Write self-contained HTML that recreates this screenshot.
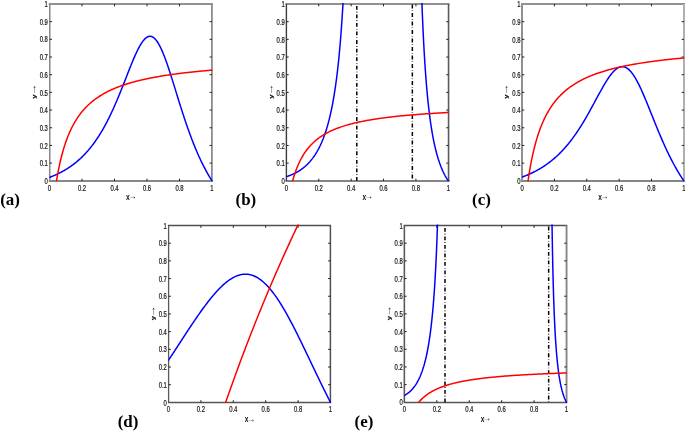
<!DOCTYPE html>
<html><head><meta charset="utf-8"><style>
html,body{margin:0;padding:0;background:#fff;}
svg{display:block;}
.tk{font-family:"Liberation Sans",Arial,sans-serif;font-size:8.8px;fill:#1a1a1a;stroke:#1a1a1a;stroke-width:0.25px;}
.al{font-family:"Liberation Sans",Arial,sans-serif;fill:#111;}
.pl{font-family:"Liberation Serif","Times New Roman",serif;font-size:16px;font-weight:bold;fill:#000;}
</style></head><body>
<svg width="685" height="432" viewBox="0 0 685 432">
<rect width="685" height="432" fill="#fff"/>
<g><line x1="49.75" y1="4.0" x2="211.9" y2="4.0" stroke="#909090" stroke-width="2.0" stroke-linecap="square"/><line x1="49.75" y1="181.0" x2="211.9" y2="181.0" stroke="#888888" stroke-width="2.0" stroke-linecap="square"/><line x1="49.75" y1="4.0" x2="49.75" y2="181.0" stroke="#888888" stroke-width="1.5"/><line x1="211.9" y1="4.0" x2="211.9" y2="181.0" stroke="#8c8c8c" stroke-width="1.8"/><path d="M49.75 163.12h2.3M211.9 163.12h-2.3M49.75 145.43h2.3M211.9 145.43h-2.3M49.75 127.75h2.3M211.9 127.75h-2.3M49.75 110.06h2.3M211.9 110.06h-2.3M49.75 92.38h2.3M211.9 92.38h-2.3M49.75 74.69h2.3M211.9 74.69h-2.3M49.75 57.01h2.3M211.9 57.01h-2.3M49.75 39.32h2.3M211.9 39.32h-2.3M49.75 21.63h2.3M211.9 21.63h-2.3M82.00 181.0v-2.3M82.00 4.0v2.3M114.50 181.0v-2.3M114.50 4.0v2.3M147.00 181.0v-2.3M147.00 4.0v2.3M179.50 181.0v-2.3M179.50 4.0v2.3" stroke="#222" stroke-width="1" fill="none"/><clipPath id="clipa"><rect x="49.4" y="3.0500000000000003" width="163.5" height="178.65000000000003"/></clipPath><path d="M49.50 177.39L50.04 177.19L50.59 176.98L51.13 176.77L51.67 176.55L52.22 176.33L52.76 176.11L53.30 175.88L53.85 175.65L54.39 175.42L54.93 175.18L55.48 174.94L56.02 174.70L56.57 174.45L57.11 174.20L57.65 173.94L58.20 173.68L58.74 173.41L59.28 173.14L59.83 172.87L60.37 172.59L60.91 172.31L61.46 172.02L62.00 171.73L62.54 171.43L63.09 171.13L63.63 170.82L64.17 170.51L64.72 170.19L65.26 169.87L65.80 169.54L66.35 169.21L66.89 168.87L67.43 168.53L67.98 168.18L68.52 167.83L69.07 167.47L69.61 167.10L70.15 166.73L70.70 166.36L71.24 165.97L71.78 165.58L72.33 165.19L72.87 164.79L73.41 164.38L73.96 163.96L74.50 163.54L75.04 163.11L75.59 162.68L76.13 162.24L76.67 161.79L77.22 161.33L77.76 160.87L78.30 160.40L78.85 159.92L79.39 159.43L79.93 158.94L80.48 158.44L81.02 157.93L81.57 157.41L82.11 156.88L82.65 156.35L83.20 155.81L83.74 155.25L84.28 154.69L84.83 154.13L85.37 153.55L85.91 152.96L86.46 152.36L87.00 151.76L87.54 151.14L88.09 150.52L88.63 149.88L89.17 149.24L89.72 148.59L90.26 147.92L90.80 147.25L91.35 146.56L91.89 145.86L92.43 145.16L92.98 144.44L93.52 143.71L94.07 142.97L94.61 142.22L95.15 141.46L95.70 140.68L96.24 139.90L96.78 139.10L97.33 138.29L97.87 137.47L98.41 136.63L98.96 135.79L99.50 134.93L100.04 134.06L100.59 133.17L101.13 132.28L101.67 131.37L102.22 130.44L102.76 129.51L103.30 128.56L103.85 127.60L104.39 126.62L104.93 125.63L105.48 124.63L106.02 123.62L106.57 122.59L107.11 121.54L107.65 120.49L108.20 119.42L108.74 118.33L109.28 117.24L109.83 116.13L110.37 115.00L110.91 113.87L111.46 112.72L112.00 111.55L112.54 110.38L113.09 109.19L113.63 107.98L114.17 106.77L114.72 105.54L115.26 104.30L115.80 103.05L116.35 101.79L116.89 100.51L117.43 99.23L117.98 97.93L118.52 96.62L119.07 95.31L119.61 93.98L120.15 92.64L120.70 91.30L121.24 89.95L121.78 88.59L122.33 87.23L122.87 85.86L123.41 84.48L123.96 83.10L124.50 81.72L125.04 80.33L125.59 78.94L126.13 77.55L126.67 76.16L127.22 74.77L127.76 73.38L128.30 72.00L128.85 70.62L129.39 69.25L129.93 67.88L130.48 66.53L131.02 65.18L131.57 63.84L132.11 62.51L132.65 61.20L133.20 59.91L133.74 58.63L134.28 57.37L134.83 56.13L135.37 54.91L135.91 53.71L136.46 52.54L137.00 51.40L137.54 50.28L138.09 49.20L138.63 48.14L139.17 47.13L139.72 46.14L140.26 45.20L140.80 44.29L141.35 43.42L141.89 42.60L142.43 41.82L142.98 41.08L143.52 40.39L144.07 39.75L144.61 39.16L145.15 38.63L145.70 38.14L146.24 37.71L146.78 37.33L147.33 37.01L147.87 36.75L148.41 36.54L148.96 36.40L149.50 36.31L150.04 36.28L150.59 36.31L151.13 36.41L151.67 36.56L152.22 36.78L152.76 37.06L153.30 37.40L153.85 37.80L154.39 38.26L154.93 38.78L155.48 39.36L156.02 40.00L156.57 40.70L157.11 41.45L157.65 42.26L158.20 43.13L158.74 44.05L159.28 45.02L159.83 46.05L160.37 47.12L160.91 48.24L161.46 49.41L162.00 50.63L162.54 51.88L163.09 53.18L163.63 54.52L164.17 55.90L164.72 57.31L165.26 58.76L165.80 60.24L166.35 61.75L166.89 63.29L167.43 64.86L167.98 66.45L168.52 68.07L169.07 69.71L169.61 71.36L170.15 73.04L170.70 74.73L171.24 76.43L171.78 78.15L172.33 79.88L172.87 81.62L173.41 83.36L173.96 85.11L174.50 86.87L175.04 88.63L175.59 90.39L176.13 92.15L176.67 93.91L177.22 95.67L177.76 97.43L178.30 99.18L178.85 100.93L179.39 102.67L179.93 104.41L180.48 106.13L181.02 107.85L181.57 109.56L182.11 111.25L182.65 112.94L183.20 114.62L183.74 116.28L184.28 117.93L184.83 119.56L185.37 121.18L185.91 122.79L186.46 124.38L187.00 125.96L187.54 127.52L188.09 129.07L188.63 130.60L189.17 132.11L189.72 133.61L190.26 135.09L190.80 136.55L191.35 138.00L191.89 139.43L192.43 140.84L192.98 142.24L193.52 143.61L194.07 144.97L194.61 146.32L195.15 147.64L195.70 148.95L196.24 150.24L196.78 151.52L197.33 152.78L197.87 154.02L198.41 155.24L198.96 156.45L199.50 157.64L200.04 158.81L200.59 159.97L201.13 161.11L201.67 162.24L202.22 163.35L202.76 164.44L203.30 165.52L203.85 166.58L204.39 167.63L204.93 168.66L205.48 169.68L206.02 170.68L206.57 171.67L207.11 172.64L207.65 173.60L208.20 174.55L208.74 175.48L209.28 176.40L209.83 177.31L210.37 178.20L210.91 179.08L211.46 179.95L212.00 180.80" stroke="#0000ff" stroke-width="1.5" fill="none" clip-path="url(#clipa)" stroke-linejoin="round" stroke-linecap="round"/><path d="M56.50 180.80L57.28 176.26L58.06 172.04L58.84 168.10L59.62 164.42L60.40 160.97L61.18 157.73L61.97 154.69L62.75 151.82L63.53 149.11L64.31 146.55L65.09 144.12L65.87 141.83L66.65 139.64L67.44 137.57L68.22 135.59L69.00 133.71L69.78 131.91L70.56 130.20L71.34 128.56L72.12 126.99L72.91 125.48L73.69 124.04L74.47 122.65L75.25 121.32L76.03 120.04L76.81 118.81L77.59 117.63L78.38 116.49L79.16 115.39L79.94 114.33L80.72 113.31L81.50 112.32L82.28 111.36L83.06 110.44L83.85 109.54L84.63 108.68L85.41 107.84L86.19 107.02L86.97 106.24L87.75 105.47L88.53 104.73L89.32 104.01L90.10 103.31L90.88 102.63L91.66 101.97L92.44 101.33L93.22 100.70L94.00 100.09L94.79 99.50L95.57 98.93L96.35 98.36L97.13 97.82L97.91 97.28L98.69 96.76L99.47 96.25L100.26 95.76L101.04 95.27L101.82 94.80L102.60 94.34L103.38 93.89L104.16 93.45L104.94 93.02L105.73 92.60L106.51 92.19L107.29 91.78L108.07 91.39L108.85 91.01L109.63 90.63L110.41 90.26L111.20 89.90L111.98 89.54L112.76 89.20L113.54 88.86L114.32 88.52L115.10 88.20L115.88 87.87L116.67 87.56L117.45 87.25L118.23 86.95L119.01 86.65L119.79 86.36L120.57 86.08L121.35 85.79L122.14 85.52L122.92 85.25L123.70 84.98L124.48 84.72L125.26 84.46L126.04 84.21L126.82 83.96L127.61 83.72L128.39 83.48L129.17 83.25L129.95 83.01L130.73 82.79L131.51 82.56L132.29 82.34L133.08 82.13L133.86 81.91L134.64 81.70L135.42 81.49L136.20 81.29L136.98 81.09L137.76 80.89L138.55 80.70L139.33 80.51L140.11 80.32L140.89 80.13L141.67 79.95L142.45 79.77L143.23 79.59L144.02 79.42L144.80 79.24L145.58 79.07L146.36 78.91L147.14 78.74L147.92 78.58L148.70 78.42L149.49 78.26L150.27 78.10L151.05 77.95L151.83 77.79L152.61 77.64L153.39 77.50L154.17 77.35L154.96 77.20L155.74 77.06L156.52 76.92L157.30 76.78L158.08 76.65L158.86 76.51L159.64 76.38L160.43 76.24L161.21 76.11L161.99 75.98L162.77 75.86L163.55 75.73L164.33 75.61L165.11 75.49L165.90 75.36L166.68 75.24L167.46 75.13L168.24 75.01L169.02 74.89L169.80 74.78L170.58 74.67L171.37 74.56L172.15 74.45L172.93 74.34L173.71 74.23L174.49 74.12L175.27 74.02L176.05 73.91L176.84 73.81L177.62 73.71L178.40 73.61L179.18 73.51L179.96 73.41L180.74 73.31L181.52 73.21L182.31 73.12L183.09 73.02L183.87 72.93L184.65 72.84L185.43 72.75L186.21 72.66L186.99 72.57L187.78 72.48L188.56 72.39L189.34 72.30L190.12 72.22L190.90 72.13L191.68 72.05L192.46 71.96L193.25 71.88L194.03 71.80L194.81 71.72L195.59 71.64L196.37 71.56L197.15 71.48L197.93 71.40L198.72 71.33L199.50 71.25L200.28 71.17L201.06 71.10L201.84 71.02L202.62 70.95L203.40 70.88L204.19 70.81L204.97 70.73L205.75 70.66L206.53 70.59L207.31 70.52L208.09 70.45L208.87 70.39L209.66 70.32L210.44 70.25L211.22 70.18L212.00 70.12" stroke="#ff0000" stroke-width="1.5" fill="none" clip-path="url(#clipa)" stroke-linejoin="round" stroke-linecap="round"/><text transform="translate(47.90 183.95) scale(0.67 1)" text-anchor="end" class="tk">0</text><text transform="translate(47.90 166.27) scale(0.67 1)" text-anchor="end" class="tk">0.1</text><text transform="translate(47.90 148.58) scale(0.67 1)" text-anchor="end" class="tk">0.2</text><text transform="translate(47.90 130.90) scale(0.67 1)" text-anchor="end" class="tk">0.3</text><text transform="translate(47.90 113.21) scale(0.67 1)" text-anchor="end" class="tk">0.4</text><text transform="translate(47.90 95.53) scale(0.67 1)" text-anchor="end" class="tk">0.5</text><text transform="translate(47.90 77.84) scale(0.67 1)" text-anchor="end" class="tk">0.6</text><text transform="translate(47.90 60.16) scale(0.67 1)" text-anchor="end" class="tk">0.7</text><text transform="translate(47.90 42.47) scale(0.67 1)" text-anchor="end" class="tk">0.8</text><text transform="translate(47.90 24.78) scale(0.67 1)" text-anchor="end" class="tk">0.9</text><text transform="translate(47.90 7.10) scale(0.67 1)" text-anchor="end" class="tk">1</text><text transform="translate(49.50 191.00) scale(0.67 1)" text-anchor="middle" class="tk">0</text><text transform="translate(82.00 191.00) scale(0.67 1)" text-anchor="middle" class="tk">0.2</text><text transform="translate(114.50 191.00) scale(0.67 1)" text-anchor="middle" class="tk">0.4</text><text transform="translate(147.00 191.00) scale(0.67 1)" text-anchor="middle" class="tk">0.6</text><text transform="translate(179.50 191.00) scale(0.67 1)" text-anchor="middle" class="tk">0.8</text><text transform="translate(212.00 191.00) scale(0.67 1)" text-anchor="middle" class="tk">1</text><text transform="translate(126.00 199.70) scale(0.72 1)" class="al" font-weight="bold" font-size="9.2">x</text><text transform="translate(128.15 199.10) scale(0.85 1)" class="al" font-weight="bold" font-size="10">&#8594;</text><text transform="translate(35.60 98.67) rotate(-90) scale(1 0.76)" class="al" font-weight="bold" font-size="7.8" stroke="#111" stroke-width="0.2">y</text><text transform="translate(35.77 95.83) rotate(-90) scale(1.2936 0.9096)" class="al" font-size="9.4" font-weight="bold">&#8594;</text><text transform="translate(0.2 204.5) scale(1.06 1)" class="pl">(a)</text></g>
<g><line x1="286.4" y1="4.0" x2="448.55" y2="4.0" stroke="#909090" stroke-width="2.0" stroke-linecap="square"/><line x1="286.4" y1="181.0" x2="448.55" y2="181.0" stroke="#858585" stroke-width="2.0" stroke-linecap="square"/><line x1="286.4" y1="4.0" x2="286.4" y2="181.0" stroke="#3c3c3c" stroke-width="1.4"/><line x1="448.55" y1="4.0" x2="448.55" y2="181.0" stroke="#5a5a5a" stroke-width="1.6"/><path d="M286.4 163.12h2.3M448.55 163.12h-2.3M286.4 145.44h2.3M448.55 145.44h-2.3M286.4 127.76h2.3M448.55 127.76h-2.3M286.4 110.08h2.3M448.55 110.08h-2.3M286.4 92.40h2.3M448.55 92.40h-2.3M286.4 74.72h2.3M448.55 74.72h-2.3M286.4 57.04h2.3M448.55 57.04h-2.3M286.4 39.36h2.3M448.55 39.36h-2.3M286.4 21.68h2.3M448.55 21.68h-2.3M318.78 181.0v-2.3M318.78 4.0v2.3M351.16 181.0v-2.3M351.16 4.0v2.3M383.54 181.0v-2.3M383.54 4.0v2.3M415.92 181.0v-2.3M415.92 4.0v2.3" stroke="#222" stroke-width="1" fill="none"/><clipPath id="clipb"><rect x="286.29999999999995" y="3.1" width="162.90000000000003" height="178.60000000000002"/></clipPath><line x1="356.8" y1="180.8" x2="356.8" y2="4.0" stroke="#000" stroke-width="1.5" stroke-dasharray="3.8 2.05 0.6 2.105" stroke-dashoffset="-0.0" clip-path="url(#clipb)"/><line x1="412.35" y1="4.0" x2="412.35" y2="180.8" stroke="#000" stroke-width="1.5" stroke-dasharray="3.8 2.05 0.6 2.050" stroke-dashoffset="-0.6" clip-path="url(#clipb)"/><path d="M286.40 176.67L286.59 176.61L286.79 176.54L286.98 176.48L287.18 176.42L287.37 176.36L287.57 176.29L287.76 176.23L287.96 176.16L288.15 176.09L288.35 176.03L288.54 175.96L288.74 175.89L288.93 175.82L289.13 175.75L289.32 175.68L289.52 175.61L289.71 175.53L289.91 175.46L290.10 175.38L290.30 175.31L290.49 175.23L290.69 175.16L290.88 175.08L291.08 175.00L291.27 174.92L291.47 174.84L291.66 174.76L291.86 174.67L292.05 174.59L292.25 174.51L292.44 174.42L292.64 174.33L292.83 174.25L293.03 174.16L293.22 174.07L293.42 173.98L293.61 173.89L293.81 173.80L294.00 173.70L294.20 173.61L294.39 173.51L294.59 173.42L294.78 173.32L294.98 173.22L295.17 173.12L295.37 173.02L295.56 172.92L295.76 172.82L295.95 172.72L296.15 172.61L296.34 172.51L296.54 172.40L296.73 172.29L296.93 172.18L297.12 172.07L297.32 171.96L297.51 171.85L297.71 171.73L297.90 171.62L298.10 171.50L298.29 171.38L298.49 171.27L298.68 171.15L298.88 171.02L299.07 170.90L299.27 170.78L299.46 170.65L299.66 170.53L299.85 170.40L300.05 170.27L300.24 170.14L300.43 170.01L300.63 169.87L300.82 169.74L301.02 169.60L301.21 169.47L301.41 169.33L301.60 169.19L301.80 169.04L301.99 168.90L302.19 168.76L302.38 168.61L302.58 168.46L302.77 168.31L302.97 168.16L303.16 168.01L303.36 167.85L303.55 167.70L303.75 167.54L303.94 167.38L304.14 167.22L304.33 167.06L304.53 166.89L304.72 166.73L304.92 166.56L305.11 166.39L305.31 166.22L305.50 166.05L305.70 165.87L305.89 165.69L306.09 165.51L306.28 165.33L306.48 165.15L306.67 164.97L306.87 164.78L307.06 164.59L307.26 164.40L307.45 164.21L307.65 164.01L307.84 163.82L308.04 163.62L308.23 163.42L308.43 163.21L308.62 163.01L308.82 162.80L309.01 162.59L309.21 162.38L309.40 162.16L309.60 161.95L309.79 161.73L309.99 161.51L310.18 161.28L310.38 161.06L310.57 160.83L310.77 160.60L310.96 160.36L311.16 160.13L311.35 159.89L311.55 159.64L311.74 159.40L311.94 159.15L312.13 158.90L312.33 158.65L312.52 158.39L312.72 158.14L312.91 157.87L313.11 157.61L313.30 157.34L313.50 157.07L313.69 156.80L313.89 156.52L314.08 156.24L314.27 155.96L314.47 155.67L314.66 155.38L314.86 155.09L315.05 154.79L315.25 154.49L315.44 154.19L315.64 153.88L315.83 153.57L316.03 153.26L316.22 152.94L316.42 152.62L316.61 152.30L316.81 151.97L317.00 151.63L317.20 151.30L317.39 150.96L317.59 150.61L317.78 150.26L317.98 149.91L318.17 149.55L318.37 149.19L318.56 148.82L318.76 148.45L318.95 148.08L319.15 147.70L319.34 147.31L319.54 146.92L319.73 146.53L319.93 146.13L320.12 145.72L320.32 145.32L320.51 144.90L320.71 144.48L320.90 144.06L321.10 143.63L321.29 143.19L321.49 142.75L321.68 142.30L321.88 141.85L322.07 141.39L322.27 140.92L322.46 140.45L322.66 139.97L322.85 139.49L323.05 139.00L323.24 138.50L323.44 138.00L323.63 137.49L323.83 136.97L324.02 136.45L324.22 135.92L324.41 135.38L324.61 134.83L324.80 134.28L325.00 133.72L325.19 133.15L325.39 132.57L325.58 131.98L325.78 131.39L325.97 130.79L326.17 130.18L326.36 129.56L326.56 128.93L326.75 128.29L326.95 127.64L327.14 126.99L327.34 126.32L327.53 125.65L327.73 124.96L327.92 124.26L328.11 123.56L328.31 122.84L328.50 122.11L328.70 121.37L328.89 120.62L329.09 119.85L329.28 119.08L329.48 118.29L329.67 117.49L329.87 116.68L330.06 115.85L330.26 115.01L330.45 114.16L330.65 113.30L330.84 112.42L331.04 111.52L331.23 110.61L331.43 109.68L331.62 108.74L331.82 107.79L332.01 106.81L332.21 105.82L332.40 104.82L332.60 103.79L332.79 102.75L332.99 101.69L333.18 100.61L333.38 99.51L333.57 98.39L333.77 97.25L333.96 96.09L334.16 94.91L334.35 93.70L334.55 92.48L334.74 91.23L334.94 89.95L335.13 88.65L335.33 87.33L335.52 85.98L335.72 84.61L335.91 83.20L336.11 81.77L336.30 80.31L336.50 78.82L336.69 77.30L336.89 75.75L337.08 74.16L337.28 72.54L337.47 70.89L337.67 69.20L337.86 67.48L338.06 65.72L338.25 63.91L338.45 62.07L338.64 60.19L338.84 58.26L339.03 56.29L339.23 54.28L339.42 52.21L339.62 50.10L339.81 47.93L340.01 45.72L340.20 43.45L340.40 41.12L340.59 38.73L340.79 36.29L340.98 33.78L341.18 31.21L341.37 28.57L341.57 25.85L341.76 23.07L341.95 20.21L342.15 17.27L342.34 14.25L342.54 11.14L342.73 7.95L342.93 4.66L343.12 1.27L343.32 -2.21L343.51 -5.80L343.71 -9.50L343.90 -13.32L344.10 -17.26L344.29 -21.32L344.49 -25.52L344.68 -29.85" stroke="#0000ff" stroke-width="1.5" fill="none" clip-path="url(#clipb)" stroke-linejoin="round" stroke-linecap="round"/><path d="M419.16 -102.50L419.30 -94.77L419.45 -87.36L419.60 -80.25L419.74 -73.43L419.89 -66.88L420.04 -60.58L420.18 -54.53L420.33 -48.70L420.48 -43.08L420.62 -37.67L420.77 -32.45L420.92 -27.41L421.06 -22.55L421.21 -17.85L421.35 -13.30L421.50 -8.91L421.65 -4.66L421.79 -0.54L421.94 3.45L422.09 7.31L422.23 11.06L422.38 14.69L422.53 18.22L422.67 21.64L422.82 24.97L422.97 28.20L423.11 31.34L423.26 34.39L423.40 37.36L423.55 40.25L423.70 43.06L423.84 45.80L423.99 48.46L424.14 51.06L424.28 53.59L424.43 56.06L424.58 58.46L424.72 60.81L424.87 63.10L425.02 65.33L425.16 67.51L425.31 69.64L425.46 71.72L425.60 73.75L425.75 75.73L425.89 77.67L426.04 79.57L426.19 81.42L426.33 83.24L426.48 85.01L426.63 86.74L426.77 88.44L426.92 90.10L427.07 91.73L427.21 93.32L427.36 94.89L427.51 96.41L427.65 97.91L427.80 99.38L427.94 100.82L428.09 102.23L428.24 103.61L428.38 104.96L428.53 106.29L428.68 107.60L428.82 108.88L428.97 110.13L429.12 111.36L429.26 112.57L429.41 113.76L429.56 114.92L429.70 116.07L429.85 117.19L429.99 118.29L430.14 119.38L430.29 120.44L430.43 121.49L430.58 122.52L430.73 123.53L430.87 124.52L431.02 125.50L431.17 126.46L431.31 127.40L431.46 128.33L431.61 129.24L431.75 130.14L431.90 131.02L432.04 131.89L432.19 132.74L432.34 133.59L432.48 134.41L432.63 135.23L432.78 136.03L432.92 136.82L433.07 137.60L433.22 138.36L433.36 139.11L433.51 139.86L433.66 140.59L433.80 141.31L433.95 142.02L434.10 142.71L434.24 143.40L434.39 144.08L434.53 144.75L434.68 145.41L434.83 146.05L434.97 146.69L435.12 147.32L435.27 147.94L435.41 148.56L435.56 149.16L435.71 149.76L435.85 150.34L436.00 150.92L436.15 151.49L436.29 152.06L436.44 152.61L436.58 153.16L436.73 153.70L436.88 154.23L437.02 154.76L437.17 155.28L437.32 155.79L437.46 156.29L437.61 156.79L437.76 157.28L437.90 157.77L438.05 158.25L438.20 158.72L438.34 159.19L438.49 159.65L438.63 160.10L438.78 160.55L438.93 161.00L439.07 161.43L439.22 161.87L439.37 162.29L439.51 162.72L439.66 163.13L439.81 163.54L439.95 163.95L440.10 164.35L440.25 164.75L440.39 165.14L440.54 165.53L440.69 165.91L440.83 166.29L440.98 166.66L441.12 167.03L441.27 167.39L441.42 167.75L441.56 168.11L441.71 168.46L441.86 168.81L442.00 169.15L442.15 169.49L442.30 169.82L442.44 170.16L442.59 170.48L442.74 170.81L442.88 171.13L443.03 171.44L443.17 171.76L443.32 172.07L443.47 172.37L443.61 172.68L443.76 172.97L443.91 173.27L444.05 173.56L444.20 173.85L444.35 174.14L444.49 174.42L444.64 174.70L444.79 174.98L444.93 175.25L445.08 175.52L445.22 175.79L445.37 176.06L445.52 176.32L445.66 176.58L445.81 176.83L445.96 177.09L446.10 177.34L446.25 177.59L446.40 177.83L446.54 178.07L446.69 178.32L446.84 178.55L446.98 178.79L447.13 179.02L447.27 179.25L447.42 179.48L447.57 179.71L447.71 179.93L447.86 180.15L448.01 180.37L448.15 180.59L448.30 180.80" stroke="#0000ff" stroke-width="1.5" fill="none" clip-path="url(#clipb)" stroke-linejoin="round" stroke-linecap="round"/><path d="M292.66 180.80L293.44 178.06L294.23 175.50L295.01 173.11L295.79 170.88L296.57 168.78L297.35 166.81L298.14 164.95L298.92 163.20L299.70 161.55L300.48 159.98L301.27 158.50L302.05 157.09L302.83 155.75L303.61 154.48L304.39 153.26L305.18 152.10L305.96 151.00L306.74 149.94L307.52 148.93L308.30 147.96L309.09 147.03L309.87 146.14L310.65 145.29L311.43 144.47L312.21 143.68L313.00 142.92L313.78 142.18L314.56 141.48L315.34 140.80L316.13 140.14L316.91 139.50L317.69 138.89L318.47 138.30L319.25 137.72L320.04 137.17L320.82 136.63L321.60 136.11L322.38 135.60L323.16 135.11L323.95 134.64L324.73 134.18L325.51 133.73L326.29 133.29L327.07 132.87L327.86 132.46L328.64 132.06L329.42 131.67L330.20 131.29L330.99 130.92L331.77 130.56L332.55 130.21L333.33 129.87L334.11 129.53L334.90 129.21L335.68 128.89L336.46 128.58L337.24 128.28L338.02 127.99L338.81 127.70L339.59 127.42L340.37 127.14L341.15 126.87L341.93 126.61L342.72 126.35L343.50 126.10L344.28 125.85L345.06 125.61L345.85 125.38L346.63 125.15L347.41 124.92L348.19 124.70L348.97 124.48L349.76 124.27L350.54 124.06L351.32 123.85L352.10 123.65L352.88 123.46L353.67 123.26L354.45 123.07L355.23 122.89L356.01 122.70L356.79 122.53L357.58 122.35L358.36 122.18L359.14 122.01L359.92 121.84L360.70 121.68L361.49 121.52L362.27 121.36L363.05 121.20L363.83 121.05L364.62 120.90L365.40 120.75L366.18 120.61L366.96 120.46L367.74 120.32L368.53 120.18L369.31 120.05L370.09 119.91L370.87 119.78L371.65 119.65L372.44 119.52L373.22 119.40L374.00 119.27L374.78 119.15L375.56 119.03L376.35 118.91L377.13 118.80L377.91 118.68L378.69 118.57L379.48 118.46L380.26 118.35L381.04 118.24L381.82 118.13L382.60 118.02L383.39 117.92L384.17 117.82L384.95 117.72L385.73 117.62L386.51 117.52L387.30 117.42L388.08 117.32L388.86 117.23L389.64 117.14L390.42 117.04L391.21 116.95L391.99 116.86L392.77 116.78L393.55 116.69L394.34 116.60L395.12 116.52L395.90 116.43L396.68 116.35L397.46 116.27L398.25 116.19L399.03 116.11L399.81 116.03L400.59 115.95L401.37 115.87L402.16 115.80L402.94 115.72L403.72 115.65L404.50 115.57L405.28 115.50L406.07 115.43L406.85 115.36L407.63 115.29L408.41 115.22L409.20 115.15L409.98 115.08L410.76 115.01L411.54 114.95L412.32 114.88L413.11 114.82L413.89 114.75L414.67 114.69L415.45 114.63L416.23 114.56L417.02 114.50L417.80 114.44L418.58 114.38L419.36 114.32L420.14 114.26L420.93 114.20L421.71 114.15L422.49 114.09L423.27 114.03L424.05 113.98L424.84 113.92L425.62 113.87L426.40 113.81L427.18 113.76L427.97 113.71L428.75 113.65L429.53 113.60L430.31 113.55L431.09 113.50L431.88 113.45L432.66 113.40L433.44 113.35L434.22 113.30L435.00 113.25L435.79 113.20L436.57 113.15L437.35 113.11L438.13 113.06L438.91 113.01L439.70 112.97L440.48 112.92L441.26 112.88L442.04 112.83L442.83 112.79L443.61 112.74L444.39 112.70L445.17 112.66L445.95 112.62L446.74 112.57L447.52 112.53L448.30 112.49" stroke="#ff0000" stroke-width="1.5" fill="none" clip-path="url(#clipb)" stroke-linejoin="round" stroke-linecap="round"/><text transform="translate(284.80 183.95) scale(0.67 1)" text-anchor="end" class="tk">0</text><text transform="translate(284.80 166.27) scale(0.67 1)" text-anchor="end" class="tk">0.1</text><text transform="translate(284.80 148.59) scale(0.67 1)" text-anchor="end" class="tk">0.2</text><text transform="translate(284.80 130.91) scale(0.67 1)" text-anchor="end" class="tk">0.3</text><text transform="translate(284.80 113.23) scale(0.67 1)" text-anchor="end" class="tk">0.4</text><text transform="translate(284.80 95.55) scale(0.67 1)" text-anchor="end" class="tk">0.5</text><text transform="translate(284.80 77.87) scale(0.67 1)" text-anchor="end" class="tk">0.6</text><text transform="translate(284.80 60.19) scale(0.67 1)" text-anchor="end" class="tk">0.7</text><text transform="translate(284.80 42.51) scale(0.67 1)" text-anchor="end" class="tk">0.8</text><text transform="translate(284.80 24.83) scale(0.67 1)" text-anchor="end" class="tk">0.9</text><text transform="translate(284.80 7.15) scale(0.67 1)" text-anchor="end" class="tk">1</text><text transform="translate(286.40 191.00) scale(0.67 1)" text-anchor="middle" class="tk">0</text><text transform="translate(318.78 191.00) scale(0.67 1)" text-anchor="middle" class="tk">0.2</text><text transform="translate(351.16 191.00) scale(0.67 1)" text-anchor="middle" class="tk">0.4</text><text transform="translate(383.54 191.00) scale(0.67 1)" text-anchor="middle" class="tk">0.6</text><text transform="translate(415.92 191.00) scale(0.67 1)" text-anchor="middle" class="tk">0.8</text><text transform="translate(448.30 191.00) scale(0.67 1)" text-anchor="middle" class="tk">1</text><text transform="translate(362.60 199.70) scale(0.72 1)" class="al" font-weight="bold" font-size="9.2">x</text><text transform="translate(364.75 199.10) scale(0.85 1)" class="al" font-weight="bold" font-size="10">&#8594;</text><text transform="translate(272.50 98.70) rotate(-90) scale(1 0.76)" class="al" font-weight="bold" font-size="7.8" stroke="#111" stroke-width="0.2">y</text><text transform="translate(272.67 95.85) rotate(-90) scale(1.2936 0.9096)" class="al" font-size="9.4" font-weight="bold">&#8594;</text><text transform="translate(235.5 204.5) scale(1.06 1)" class="pl">(b)</text></g>
<g><line x1="522.0" y1="4.0" x2="684.0" y2="4.0" stroke="#929292" stroke-width="2.0" stroke-linecap="square"/><line x1="522.0" y1="181.0" x2="684.0" y2="181.0" stroke="#858585" stroke-width="2.0" stroke-linecap="square"/><line x1="522.0" y1="4.0" x2="522.0" y2="181.0" stroke="#909090" stroke-width="2.0"/><line x1="684.0" y1="4.0" x2="684.0" y2="181.0" stroke="#b0b0b0" stroke-width="2.0"/><path d="M522.0 163.12h2.3M684.0 163.12h-2.3M522.0 145.44h2.3M684.0 145.44h-2.3M522.0 127.76h2.3M684.0 127.76h-2.3M522.0 110.08h2.3M684.0 110.08h-2.3M522.0 92.40h2.3M684.0 92.40h-2.3M522.0 74.72h2.3M684.0 74.72h-2.3M522.0 57.04h2.3M684.0 57.04h-2.3M522.0 39.36h2.3M684.0 39.36h-2.3M522.0 21.68h2.3M684.0 21.68h-2.3M554.44 181.0v-2.3M554.44 4.0v2.3M586.78 181.0v-2.3M586.78 4.0v2.3M619.12 181.0v-2.3M619.12 4.0v2.3M651.46 181.0v-2.3M651.46 4.0v2.3" stroke="#222" stroke-width="1" fill="none"/><clipPath id="clipc"><rect x="522.0" y="3.1" width="162.69999999999993" height="178.60000000000002"/></clipPath><path d="M522.10 177.10L522.64 176.90L523.18 176.69L523.72 176.49L524.26 176.28L524.80 176.07L525.34 175.86L525.89 175.64L526.43 175.42L526.97 175.19L527.51 174.97L528.05 174.74L528.59 174.50L529.13 174.26L529.67 174.02L530.21 173.78L530.75 173.53L531.29 173.28L531.83 173.02L532.38 172.76L532.92 172.50L533.46 172.23L534.00 171.96L534.54 171.69L535.08 171.41L535.62 171.12L536.16 170.84L536.70 170.55L537.24 170.25L537.78 169.95L538.32 169.65L538.86 169.34L539.41 169.02L539.95 168.70L540.49 168.38L541.03 168.05L541.57 167.72L542.11 167.39L542.65 167.04L543.19 166.70L543.73 166.35L544.27 165.99L544.81 165.63L545.35 165.26L545.90 164.89L546.44 164.51L546.98 164.13L547.52 163.74L548.06 163.34L548.60 162.94L549.14 162.54L549.68 162.13L550.22 161.71L550.76 161.28L551.30 160.86L551.84 160.42L552.38 159.98L552.93 159.53L553.47 159.08L554.01 158.62L554.55 158.15L555.09 157.68L555.63 157.20L556.17 156.71L556.71 156.22L557.25 155.72L557.79 155.21L558.33 154.69L558.87 154.17L559.42 153.64L559.96 153.11L560.50 152.56L561.04 152.01L561.58 151.46L562.12 150.89L562.66 150.32L563.20 149.74L563.74 149.15L564.28 148.55L564.82 147.95L565.36 147.34L565.91 146.71L566.45 146.09L566.99 145.45L567.53 144.80L568.07 144.15L568.61 143.49L569.15 142.82L569.69 142.14L570.23 141.46L570.77 140.76L571.31 140.06L571.85 139.34L572.39 138.62L572.94 137.89L573.48 137.16L574.02 136.41L574.56 135.65L575.10 134.89L575.64 134.12L576.18 133.33L576.72 132.54L577.26 131.74L577.80 130.94L578.34 130.12L578.88 129.30L579.43 128.46L579.97 127.62L580.51 126.77L581.05 125.91L581.59 125.04L582.13 124.17L582.67 123.29L583.21 122.40L583.75 121.50L584.29 120.59L584.83 119.68L585.37 118.76L585.91 117.83L586.46 116.89L587.00 115.95L587.54 115.00L588.08 114.05L588.62 113.09L589.16 112.12L589.70 111.15L590.24 110.18L590.78 109.20L591.32 108.21L591.86 107.22L592.40 106.23L592.95 105.23L593.49 104.24L594.03 103.23L594.57 102.23L595.11 101.23L595.65 100.23L596.19 99.22L596.73 98.22L597.27 97.22L597.81 96.21L598.35 95.22L598.89 94.22L599.43 93.23L599.98 92.24L600.52 91.26L601.06 90.28L601.60 89.32L602.14 88.35L602.68 87.40L603.22 86.46L603.76 85.52L604.30 84.60L604.84 83.69L605.38 82.79L605.92 81.91L606.47 81.04L607.01 80.19L607.55 79.35L608.09 78.53L608.63 77.73L609.17 76.95L609.71 76.19L610.25 75.45L610.79 74.74L611.33 74.04L611.87 73.38L612.41 72.74L612.95 72.12L613.50 71.54L614.04 70.98L614.58 70.45L615.12 69.95L615.66 69.49L616.20 69.05L616.74 68.65L617.28 68.29L617.82 67.95L618.36 67.66L618.90 67.40L619.44 67.17L619.99 66.99L620.53 66.84L621.07 66.73L621.61 66.66L622.15 66.63L622.69 66.64L623.23 66.68L623.77 66.77L624.31 66.90L624.85 67.07L625.39 67.28L625.93 67.53L626.47 67.82L627.02 68.16L627.56 68.53L628.10 68.94L628.64 69.39L629.18 69.88L629.72 70.41L630.26 70.98L630.80 71.59L631.34 72.23L631.88 72.91L632.42 73.63L632.96 74.38L633.51 75.16L634.05 75.98L634.59 76.83L635.13 77.72L635.67 78.63L636.21 79.58L636.75 80.55L637.29 81.55L637.83 82.58L638.37 83.63L638.91 84.71L639.45 85.81L639.99 86.94L640.54 88.09L641.08 89.25L641.62 90.44L642.16 91.64L642.70 92.86L643.24 94.10L643.78 95.35L644.32 96.62L644.86 97.90L645.40 99.18L645.94 100.48L646.48 101.79L647.03 103.11L647.57 104.44L648.11 105.77L648.65 107.11L649.19 108.45L649.73 109.79L650.27 111.14L650.81 112.49L651.35 113.85L651.89 115.20L652.43 116.55L652.97 117.90L653.52 119.25L654.06 120.60L654.60 121.94L655.14 123.28L655.68 124.61L656.22 125.94L656.76 127.27L657.30 128.59L657.84 129.90L658.38 131.20L658.92 132.50L659.46 133.79L660.00 135.07L660.55 136.35L661.09 137.61L661.63 138.87L662.17 140.11L662.71 141.35L663.25 142.57L663.79 143.79L664.33 144.99L664.87 146.19L665.41 147.37L665.95 148.55L666.49 149.71L667.04 150.86L667.58 152.00L668.12 153.12L668.66 154.24L669.20 155.34L669.74 156.44L670.28 157.52L670.82 158.59L671.36 159.64L671.90 160.69L672.44 161.72L672.98 162.75L673.52 163.76L674.07 164.76L674.61 165.74L675.15 166.72L675.69 167.68L676.23 168.64L676.77 169.58L677.31 170.51L677.85 171.42L678.39 172.33L678.93 173.23L679.47 174.11L680.01 174.98L680.56 175.85L681.10 176.70L681.64 177.54L682.18 178.37L682.72 179.19L683.26 180.00L683.80 180.80" stroke="#0000ff" stroke-width="1.5" fill="none" clip-path="url(#clipc)" stroke-linejoin="round" stroke-linecap="round"/><path d="M528.04 180.80L528.82 175.63L529.60 170.83L530.39 166.36L531.17 162.19L531.95 158.30L532.73 154.64L533.52 151.21L534.30 147.99L535.08 144.95L535.86 142.07L536.65 139.36L537.43 136.78L538.21 134.34L539.00 132.03L539.78 129.82L540.56 127.72L541.34 125.72L542.13 123.81L542.91 121.99L543.69 120.24L544.47 118.57L545.26 116.97L546.04 115.44L546.82 113.96L547.61 112.55L548.39 111.19L549.17 109.88L549.95 108.62L550.74 107.40L551.52 106.23L552.30 105.10L553.08 104.01L553.87 102.96L554.65 101.94L555.43 100.95L556.22 100.00L557.00 99.08L557.78 98.18L558.56 97.32L559.35 96.48L560.13 95.66L560.91 94.87L561.69 94.10L562.48 93.36L563.26 92.63L564.04 91.93L564.83 91.24L565.61 90.58L566.39 89.93L567.17 89.30L567.96 88.68L568.74 88.08L569.52 87.50L570.30 86.93L571.09 86.37L571.87 85.83L572.65 85.30L573.44 84.78L574.22 84.28L575.00 83.79L575.78 83.31L576.57 82.84L577.35 82.38L578.13 81.93L578.91 81.49L579.70 81.06L580.48 80.64L581.26 80.22L582.05 79.82L582.83 79.43L583.61 79.04L584.39 78.66L585.18 78.29L585.96 77.93L586.74 77.57L587.52 77.22L588.31 76.88L589.09 76.54L589.87 76.21L590.66 75.89L591.44 75.57L592.22 75.26L593.00 74.96L593.79 74.66L594.57 74.36L595.35 74.07L596.13 73.79L596.92 73.51L597.70 73.24L598.48 72.97L599.27 72.70L600.05 72.44L600.83 72.18L601.61 71.93L602.40 71.69L603.18 71.44L603.96 71.20L604.74 70.97L605.53 70.73L606.31 70.51L607.09 70.28L607.88 70.06L608.66 69.84L609.44 69.63L610.22 69.42L611.01 69.21L611.79 69.00L612.57 68.80L613.35 68.60L614.14 68.41L614.92 68.22L615.70 68.03L616.49 67.84L617.27 67.65L618.05 67.47L618.83 67.29L619.62 67.11L620.40 66.94L621.18 66.77L621.96 66.60L622.75 66.43L623.53 66.27L624.31 66.10L625.10 65.94L625.88 65.78L626.66 65.63L627.44 65.47L628.23 65.32L629.01 65.17L629.79 65.02L630.57 64.87L631.36 64.73L632.14 64.59L632.92 64.44L633.71 64.30L634.49 64.17L635.27 64.03L636.05 63.90L636.84 63.76L637.62 63.63L638.40 63.50L639.18 63.37L639.97 63.25L640.75 63.12L641.53 63.00L642.32 62.88L643.10 62.76L643.88 62.64L644.66 62.52L645.45 62.40L646.23 62.29L647.01 62.17L647.79 62.06L648.58 61.95L649.36 61.84L650.14 61.73L650.93 61.62L651.71 61.51L652.49 61.41L653.27 61.30L654.06 61.20L654.84 61.10L655.62 61.00L656.40 60.90L657.19 60.80L657.97 60.70L658.75 60.60L659.54 60.51L660.32 60.41L661.10 60.32L661.88 60.23L662.67 60.13L663.45 60.04L664.23 59.95L665.01 59.86L665.80 59.78L666.58 59.69L667.36 59.60L668.15 59.52L668.93 59.43L669.71 59.35L670.49 59.26L671.28 59.18L672.06 59.10L672.84 59.02L673.62 58.94L674.41 58.86L675.19 58.78L675.97 58.70L676.76 58.62L677.54 58.55L678.32 58.47L679.10 58.39L679.89 58.32L680.67 58.25L681.45 58.17L682.23 58.10L683.02 58.03L683.80 57.96" stroke="#ff0000" stroke-width="1.5" fill="none" clip-path="url(#clipc)" stroke-linejoin="round" stroke-linecap="round"/><text transform="translate(520.50 183.95) scale(0.67 1)" text-anchor="end" class="tk">0</text><text transform="translate(520.50 166.27) scale(0.67 1)" text-anchor="end" class="tk">0.1</text><text transform="translate(520.50 148.59) scale(0.67 1)" text-anchor="end" class="tk">0.2</text><text transform="translate(520.50 130.91) scale(0.67 1)" text-anchor="end" class="tk">0.3</text><text transform="translate(520.50 113.23) scale(0.67 1)" text-anchor="end" class="tk">0.4</text><text transform="translate(520.50 95.55) scale(0.67 1)" text-anchor="end" class="tk">0.5</text><text transform="translate(520.50 77.87) scale(0.67 1)" text-anchor="end" class="tk">0.6</text><text transform="translate(520.50 60.19) scale(0.67 1)" text-anchor="end" class="tk">0.7</text><text transform="translate(520.50 42.51) scale(0.67 1)" text-anchor="end" class="tk">0.8</text><text transform="translate(520.50 24.83) scale(0.67 1)" text-anchor="end" class="tk">0.9</text><text transform="translate(520.50 7.15) scale(0.67 1)" text-anchor="end" class="tk">1</text><text transform="translate(522.10 191.00) scale(0.67 1)" text-anchor="middle" class="tk">0</text><text transform="translate(554.44 191.00) scale(0.67 1)" text-anchor="middle" class="tk">0.2</text><text transform="translate(586.78 191.00) scale(0.67 1)" text-anchor="middle" class="tk">0.4</text><text transform="translate(619.12 191.00) scale(0.67 1)" text-anchor="middle" class="tk">0.6</text><text transform="translate(651.46 191.00) scale(0.67 1)" text-anchor="middle" class="tk">0.8</text><text transform="translate(683.80 191.00) scale(0.67 1)" text-anchor="middle" class="tk">1</text><text transform="translate(598.20 199.70) scale(0.72 1)" class="al" font-weight="bold" font-size="9.2">x</text><text transform="translate(600.35 199.10) scale(0.85 1)" class="al" font-weight="bold" font-size="10">&#8594;</text><text transform="translate(508.20 98.70) rotate(-90) scale(1 0.76)" class="al" font-weight="bold" font-size="7.8" stroke="#111" stroke-width="0.2">y</text><text transform="translate(508.37 95.85) rotate(-90) scale(1.2936 0.9096)" class="al" font-size="9.4" font-weight="bold">&#8594;</text><text transform="translate(472 204.5) scale(1.06 1)" class="pl">(c)</text></g>
<g><line x1="168.6" y1="225.5" x2="330.4" y2="225.5" stroke="#505050" stroke-width="1.36" stroke-linecap="square"/><line x1="168.6" y1="402.5" x2="330.4" y2="402.5" stroke="#555555" stroke-width="1.4" stroke-linecap="square"/><line x1="168.6" y1="225.5" x2="168.6" y2="402.5" stroke="#5a5a5a" stroke-width="1.3"/><line x1="330.4" y1="225.5" x2="330.4" y2="402.5" stroke="#505050" stroke-width="1.5"/><path d="M168.6 384.71h2.3M330.4 384.71h-2.3M168.6 367.02h2.3M330.4 367.02h-2.3M168.6 349.33h2.3M330.4 349.33h-2.3M168.6 331.64h2.3M330.4 331.64h-2.3M168.6 313.95h2.3M330.4 313.95h-2.3M168.6 296.26h2.3M330.4 296.26h-2.3M168.6 278.57h2.3M330.4 278.57h-2.3M168.6 260.88h2.3M330.4 260.88h-2.3M168.6 243.19h2.3M330.4 243.19h-2.3M200.90 402.5v-2.3M200.90 225.5v2.3M233.30 402.5v-2.3M233.30 225.5v2.3M265.70 402.5v-2.3M265.70 225.5v2.3M298.10 402.5v-2.3M298.10 225.5v2.3" stroke="#222" stroke-width="1" fill="none"/><clipPath id="clipd"><rect x="168.4" y="224.6" width="163.0" height="178.7"/></clipPath><path d="M168.50 360.27L169.04 359.44L169.58 358.61L170.13 357.79L170.67 356.96L171.21 356.13L171.75 355.30L172.29 354.47L172.83 353.64L173.38 352.80L173.92 351.97L174.46 351.14L175.00 350.31L175.54 349.47L176.09 348.64L176.63 347.81L177.17 346.97L177.71 346.14L178.25 345.30L178.79 344.47L179.34 343.64L179.88 342.80L180.42 341.97L180.96 341.14L181.50 340.30L182.05 339.47L182.59 338.64L183.13 337.81L183.67 336.98L184.21 336.15L184.75 335.32L185.30 334.50L185.84 333.67L186.38 332.84L186.92 332.02L187.46 331.20L188.01 330.38L188.55 329.56L189.09 328.74L189.63 327.92L190.17 327.10L190.71 326.29L191.26 325.48L191.80 324.67L192.34 323.86L192.88 323.06L193.42 322.25L193.96 321.45L194.51 320.65L195.05 319.86L195.59 319.06L196.13 318.27L196.67 317.49L197.22 316.70L197.76 315.92L198.30 315.14L198.84 314.37L199.38 313.59L199.92 312.83L200.47 312.06L201.01 311.30L201.55 310.54L202.09 309.79L202.63 309.04L203.18 308.30L203.72 307.56L204.26 306.82L204.80 306.09L205.34 305.36L205.88 304.64L206.43 303.92L206.97 303.21L207.51 302.51L208.05 301.81L208.59 301.11L209.14 300.42L209.68 299.74L210.22 299.06L210.76 298.39L211.30 297.72L211.84 297.06L212.39 296.41L212.93 295.76L213.47 295.12L214.01 294.49L214.55 293.86L215.10 293.24L215.64 292.63L216.18 292.03L216.72 291.43L217.26 290.84L217.80 290.26L218.35 289.68L218.89 289.12L219.43 288.56L219.97 288.01L220.51 287.47L221.06 286.94L221.60 286.42L222.14 285.91L222.68 285.40L223.22 284.91L223.76 284.42L224.31 283.94L224.85 283.48L225.39 283.02L225.93 282.57L226.47 282.14L227.02 281.71L227.56 281.29L228.10 280.89L228.64 280.49L229.18 280.11L229.72 279.74L230.27 279.37L230.81 279.02L231.35 278.68L231.89 278.35L232.43 278.04L232.97 277.73L233.52 277.44L234.06 277.16L234.60 276.89L235.14 276.63L235.68 276.38L236.23 276.15L236.77 275.93L237.31 275.72L237.85 275.53L238.39 275.35L238.93 275.18L239.48 275.02L240.02 274.88L240.56 274.75L241.10 274.63L241.64 274.53L242.19 274.44L242.73 274.36L243.27 274.30L243.81 274.25L244.35 274.21L244.89 274.19L245.44 274.18L245.98 274.19L246.52 274.21L247.06 274.25L247.60 274.29L248.15 274.36L248.69 274.44L249.23 274.53L249.77 274.63L250.31 274.75L250.85 274.89L251.40 275.04L251.94 275.20L252.48 275.38L253.02 275.57L253.56 275.78L254.11 276.00L254.65 276.24L255.19 276.49L255.73 276.75L256.27 277.03L256.81 277.33L257.36 277.64L257.90 277.96L258.44 278.30L258.98 278.65L259.52 279.02L260.07 279.40L260.61 279.79L261.15 280.20L261.69 280.63L262.23 281.06L262.77 281.52L263.32 281.98L263.86 282.46L264.40 282.96L264.94 283.46L265.48 283.99L266.03 284.52L266.57 285.07L267.11 285.63L267.65 286.21L268.19 286.80L268.73 287.40L269.28 288.02L269.82 288.65L270.36 289.29L270.90 289.94L271.44 290.61L271.98 291.29L272.53 291.98L273.07 292.68L273.61 293.40L274.15 294.13L274.69 294.87L275.24 295.62L275.78 296.39L276.32 297.16L276.86 297.95L277.40 298.74L277.94 299.55L278.49 300.37L279.03 301.20L279.57 302.04L280.11 302.90L280.65 303.76L281.20 304.63L281.74 305.51L282.28 306.40L282.82 307.30L283.36 308.21L283.90 309.13L284.45 310.06L284.99 310.99L285.53 311.94L286.07 312.89L286.61 313.85L287.16 314.82L287.70 315.80L288.24 316.79L288.78 317.78L289.32 318.78L289.86 319.79L290.41 320.80L290.95 321.82L291.49 322.85L292.03 323.88L292.57 324.92L293.12 325.97L293.66 327.02L294.20 328.08L294.74 329.14L295.28 330.21L295.82 331.28L296.37 332.35L296.91 333.44L297.45 334.52L297.99 335.61L298.53 336.71L299.08 337.81L299.62 338.91L300.16 340.01L300.70 341.12L301.24 342.23L301.78 343.35L302.33 344.47L302.87 345.59L303.41 346.71L303.95 347.83L304.49 348.96L305.04 350.09L305.58 351.22L306.12 352.35L306.66 353.48L307.20 354.62L307.74 355.75L308.29 356.89L308.83 358.02L309.37 359.16L309.91 360.30L310.45 361.44L310.99 362.57L311.54 363.71L312.08 364.85L312.62 365.98L313.16 367.12L313.70 368.26L314.25 369.39L314.79 370.52L315.33 371.66L315.87 372.79L316.41 373.92L316.95 375.04L317.50 376.17L318.04 377.30L318.58 378.42L319.12 379.54L319.66 380.66L320.21 381.77L320.75 382.89L321.29 384.00L321.83 385.11L322.37 386.21L322.91 387.31L323.46 388.41L324.00 389.51L324.54 390.60L325.08 391.70L325.62 392.78L326.17 393.87L326.71 394.95L327.25 396.02L327.79 397.10L328.33 398.16L328.87 399.23L329.42 400.29L329.96 401.35L330.50 402.40" stroke="#0000ff" stroke-width="1.5" fill="none" clip-path="url(#clipd)" stroke-linejoin="round" stroke-linecap="round"/><path d="M225.62 402.40L226.88 398.81L228.13 395.23L229.39 391.68L230.64 388.14L231.90 384.63L233.16 381.14L234.41 377.67L235.67 374.22L236.92 370.79L238.18 367.38L239.43 363.98L240.69 360.61L241.95 357.26L243.20 353.92L244.46 350.61L245.71 347.31L246.97 344.03L248.23 340.77L249.48 337.53L250.74 334.31L251.99 331.10L253.25 327.91L254.51 324.74L255.76 321.59L257.02 318.46L258.27 315.34L259.53 312.24L260.79 309.15L262.04 306.09L263.30 303.04L264.55 300.00L265.81 296.98L267.07 293.98L268.32 291.00L269.58 288.03L270.83 285.08L272.09 282.14L273.35 279.22L274.60 276.31L275.86 273.42L277.11 270.54L278.37 267.68L279.62 264.84L280.88 262.01L282.14 259.19L283.39 256.39L284.65 253.60L285.90 250.83L287.16 248.07L288.42 245.33L289.67 242.60L290.93 239.88L292.18 237.18L293.44 234.49L294.70 231.82L295.95 229.16L297.21 226.51L298.46 223.88L299.72 221.26" stroke="#ff0000" stroke-width="1.5" fill="none" clip-path="url(#clipd)" stroke-linejoin="round" stroke-linecap="round"/><text transform="translate(166.90 405.55) scale(0.67 1)" text-anchor="end" class="tk">0</text><text transform="translate(166.90 387.86) scale(0.67 1)" text-anchor="end" class="tk">0.1</text><text transform="translate(166.90 370.17) scale(0.67 1)" text-anchor="end" class="tk">0.2</text><text transform="translate(166.90 352.48) scale(0.67 1)" text-anchor="end" class="tk">0.3</text><text transform="translate(166.90 334.79) scale(0.67 1)" text-anchor="end" class="tk">0.4</text><text transform="translate(166.90 317.10) scale(0.67 1)" text-anchor="end" class="tk">0.5</text><text transform="translate(166.90 299.41) scale(0.67 1)" text-anchor="end" class="tk">0.6</text><text transform="translate(166.90 281.72) scale(0.67 1)" text-anchor="end" class="tk">0.7</text><text transform="translate(166.90 264.03) scale(0.67 1)" text-anchor="end" class="tk">0.8</text><text transform="translate(166.90 246.34) scale(0.67 1)" text-anchor="end" class="tk">0.9</text><text transform="translate(166.90 228.65) scale(0.67 1)" text-anchor="end" class="tk">1</text><text transform="translate(168.50 412.20) scale(0.67 1)" text-anchor="middle" class="tk">0</text><text transform="translate(200.90 412.20) scale(0.67 1)" text-anchor="middle" class="tk">0.2</text><text transform="translate(233.30 412.20) scale(0.67 1)" text-anchor="middle" class="tk">0.4</text><text transform="translate(265.70 412.20) scale(0.67 1)" text-anchor="middle" class="tk">0.6</text><text transform="translate(298.10 412.20) scale(0.67 1)" text-anchor="middle" class="tk">0.8</text><text transform="translate(330.50 412.20) scale(0.67 1)" text-anchor="middle" class="tk">1</text><text transform="translate(244.75 422.10) scale(0.72 1)" class="al" font-weight="bold" font-size="9.2">x</text><text transform="translate(246.90 421.50) scale(0.85 1)" class="al" font-weight="bold" font-size="10">&#8594;</text><text transform="translate(154.60 320.25) rotate(-90) scale(1 0.76)" class="al" font-weight="bold" font-size="7.8" stroke="#111" stroke-width="0.2">y</text><text transform="translate(154.77 317.40) rotate(-90) scale(1.2936 0.9096)" class="al" font-size="9.4" font-weight="bold">&#8594;</text><text transform="translate(117.7 426.5) scale(1.06 1)" class="pl">(d)</text></g>
<g><line x1="404.35" y1="225.5" x2="566.55" y2="225.5" stroke="#505050" stroke-width="1.36" stroke-linecap="square"/><line x1="404.35" y1="402.5" x2="566.55" y2="402.5" stroke="#555555" stroke-width="1.4" stroke-linecap="square"/><line x1="404.35" y1="225.5" x2="404.35" y2="402.5" stroke="#5a5a5a" stroke-width="1.6"/><line x1="566.55" y1="225.5" x2="566.55" y2="402.5" stroke="#868686" stroke-width="1.9"/><path d="M404.35 384.62h2.3M566.55 384.62h-2.3M404.35 366.94h2.3M566.55 366.94h-2.3M404.35 349.26h2.3M566.55 349.26h-2.3M404.35 331.58h2.3M566.55 331.58h-2.3M404.35 313.90h2.3M566.55 313.90h-2.3M404.35 296.22h2.3M566.55 296.22h-2.3M404.35 278.54h2.3M566.55 278.54h-2.3M404.35 260.86h2.3M566.55 260.86h-2.3M404.35 243.18h2.3M566.55 243.18h-2.3M436.82 402.5v-2.3M436.82 225.5v2.3M469.24 402.5v-2.3M469.24 225.5v2.3M501.66 402.5v-2.3M501.66 225.5v2.3M534.08 402.5v-2.3M534.08 225.5v2.3" stroke="#222" stroke-width="1" fill="none"/><clipPath id="clipe"><rect x="404.29999999999995" y="224.6" width="163.10000000000002" height="178.60000000000002"/></clipPath><line x1="445.0" y1="402.3" x2="445.0" y2="225.5" stroke="#000" stroke-width="1.5" stroke-dasharray="3.8 2.05 0.6 2.080" stroke-dashoffset="-0.0" clip-path="url(#clipe)"/><line x1="548.65" y1="225.5" x2="548.65" y2="402.3" stroke="#000" stroke-width="1.5" stroke-dasharray="3.8 2.05 0.6 2.000" stroke-dashoffset="-1.1" clip-path="url(#clipe)"/><path d="M404.40 395.40L404.52 395.34L404.63 395.28L404.75 395.22L404.87 395.16L404.98 395.09L405.10 395.03L405.22 394.96L405.33 394.90L405.45 394.83L405.57 394.76L405.68 394.69L405.80 394.62L405.92 394.55L406.03 394.48L406.15 394.41L406.26 394.34L406.38 394.26L406.50 394.19L406.61 394.11L406.73 394.04L406.85 393.96L406.96 393.88L407.08 393.80L407.20 393.72L407.31 393.64L407.43 393.56L407.55 393.48L407.66 393.39L407.78 393.31L407.90 393.22L408.01 393.14L408.13 393.05L408.25 392.96L408.36 392.87L408.48 392.78L408.60 392.69L408.71 392.60L408.83 392.50L408.95 392.41L409.06 392.31L409.18 392.22L409.30 392.12L409.41 392.02L409.53 391.92L409.65 391.82L409.76 391.71L409.88 391.61L409.99 391.51L410.11 391.40L410.23 391.29L410.34 391.19L410.46 391.08L410.58 390.97L410.69 390.85L410.81 390.74L410.93 390.63L411.04 390.51L411.16 390.39L411.28 390.28L411.39 390.16L411.51 390.04L411.63 389.91L411.74 389.79L411.86 389.67L411.98 389.54L412.09 389.41L412.21 389.28L412.33 389.15L412.44 389.02L412.56 388.89L412.68 388.76L412.79 388.62L412.91 388.48L413.03 388.34L413.14 388.20L413.26 388.06L413.38 387.92L413.49 387.78L413.61 387.63L413.72 387.48L413.84 387.33L413.96 387.18L414.07 387.03L414.19 386.87L414.31 386.72L414.42 386.56L414.54 386.40L414.66 386.24L414.77 386.08L414.89 385.91L415.01 385.75L415.12 385.58L415.24 385.41L415.36 385.24L415.47 385.06L415.59 384.89L415.71 384.71L415.82 384.53L415.94 384.35L416.06 384.17L416.17 383.98L416.29 383.80L416.41 383.61L416.52 383.42L416.64 383.22L416.76 383.03L416.87 382.83L416.99 382.63L417.11 382.43L417.22 382.22L417.34 382.02L417.45 381.81L417.57 381.60L417.69 381.38L417.80 381.17L417.92 380.95L418.04 380.73L418.15 380.51L418.27 380.28L418.39 380.06L418.50 379.83L418.62 379.59L418.74 379.36L418.85 379.12L418.97 378.88L419.09 378.64L419.20 378.39L419.32 378.14L419.44 377.89L419.55 377.63L419.67 377.38L419.79 377.12L419.90 376.85L420.02 376.59L420.14 376.32L420.25 376.05L420.37 375.77L420.49 375.49L420.60 375.21L420.72 374.92L420.83 374.64L420.95 374.34L421.07 374.05L421.18 373.75L421.30 373.45L421.42 373.14L421.53 372.83L421.65 372.52L421.77 372.20L421.88 371.88L422.00 371.56L422.12 371.23L422.23 370.90L422.35 370.56L422.47 370.22L422.58 369.88L422.70 369.53L422.82 369.18L422.93 368.82L423.05 368.46L423.17 368.09L423.28 367.72L423.40 367.35L423.52 366.97L423.63 366.58L423.75 366.19L423.87 365.80L423.98 365.40L424.10 365.00L424.22 364.59L424.33 364.17L424.45 363.75L424.56 363.33L424.68 362.90L424.80 362.46L424.91 362.02L425.03 361.57L425.15 361.12L425.26 360.66L425.38 360.19L425.50 359.72L425.61 359.24L425.73 358.76L425.85 358.26L425.96 357.77L426.08 357.26L426.20 356.75L426.31 356.23L426.43 355.71L426.55 355.17L426.66 354.63L426.78 354.08L426.90 353.53L427.01 352.96L427.13 352.39L427.25 351.81L427.36 351.22L427.48 350.63L427.60 350.02L427.71 349.41L427.83 348.78L427.95 348.15L428.06 347.51L428.18 346.86L428.29 346.20L428.41 345.52L428.53 344.84L428.64 344.15L428.76 343.45L428.88 342.73L428.99 342.01L429.11 341.27L429.23 340.52L429.34 339.76L429.46 338.99L429.58 338.21L429.69 337.41L429.81 336.60L429.93 335.78L430.04 334.94L430.16 334.09L430.28 333.23L430.39 332.35L430.51 331.45L430.63 330.54L430.74 329.62L430.86 328.68L430.98 327.72L431.09 326.74L431.21 325.75L431.33 324.74L431.44 323.71L431.56 322.67L431.68 321.60L431.79 320.51L431.91 319.41L432.02 318.28L432.14 317.13L432.26 315.96L432.37 314.77L432.49 313.56L432.61 312.32L432.72 311.05L432.84 309.77L432.96 308.45L433.07 307.11L433.19 305.74L433.31 304.35L433.42 302.92L433.54 301.47L433.66 299.98L433.77 298.46L433.89 296.91L434.01 295.33L434.12 293.71L434.24 292.05L434.36 290.36L434.47 288.62L434.59 286.85L434.71 285.04L434.82 283.19L434.94 281.29L435.06 279.34L435.17 277.35L435.29 275.31L435.41 273.22L435.52 271.07L435.64 268.88L435.75 266.62L435.87 264.31L435.99 261.93L436.10 259.50L436.22 256.99L436.34 254.42L436.45 251.77L436.57 249.06L436.69 246.26L436.80 243.38L436.92 240.42L437.04 237.38L437.15 234.24L437.27 231.00L437.39 227.66L437.50 224.22L437.62 220.67L437.74 217.00L437.85 213.21L437.97 209.30L438.09 205.25L438.20 201.06L438.32 196.72L438.44 192.23L438.55 187.58L438.67 182.75L438.79 177.74L438.90 172.53L439.02 167.12L439.13 161.50L439.25 155.64" stroke="#0000ff" stroke-width="1.5" fill="none" clip-path="url(#clipe)" stroke-linejoin="round" stroke-linecap="round"/><path d="M551.10 137.53L551.15 144.03L551.20 150.26L551.26 156.25L551.31 162.01L551.36 167.54L551.41 172.87L551.46 178.00L551.51 182.94L551.56 187.71L551.62 192.32L551.67 196.76L551.72 201.06L551.77 205.21L551.82 209.22L551.87 213.11L551.92 216.87L551.98 220.52L552.03 224.06L552.08 227.48L552.13 230.81L552.18 234.03L552.23 237.17L552.29 240.21L552.34 243.17L552.39 246.05L552.44 248.84L552.49 251.56L552.54 254.21L552.59 256.79L552.65 259.30L552.70 261.75L552.75 264.13L552.80 266.46L552.85 268.72L552.90 270.94L552.95 273.09L553.01 275.20L553.06 277.25L553.11 279.26L553.16 281.22L553.21 283.14L553.26 285.01L553.32 286.84L553.37 288.63L553.42 290.39L553.47 292.10L553.52 293.77L553.57 295.42L553.62 297.02L553.68 298.59L553.73 300.13L553.78 301.64L553.83 303.12L553.88 304.57L553.93 305.99L553.98 307.38L554.04 308.74L554.09 310.08L554.14 311.39L554.19 312.68L554.24 313.94L554.29 315.18L554.35 316.40L554.40 317.59L554.45 318.77L554.50 319.92L554.55 321.05L554.60 322.16L554.65 323.25L554.71 324.32L554.76 325.38L554.81 326.41L554.86 327.43L554.91 328.43L554.96 329.41L555.01 330.38L555.07 331.33L555.12 332.27L555.17 333.19L555.22 334.09L555.27 334.98L555.32 335.86L555.38 336.72L555.43 337.57L555.48 338.41L555.53 339.23L555.58 340.04L555.63 340.84L555.68 341.63L555.74 342.40L555.79 343.16L555.84 343.91L555.89 344.65L555.94 345.38L555.99 346.10L556.04 346.81L556.10 347.51L556.15 348.20L556.20 348.87L556.25 349.54L556.30 350.20L556.35 350.85L556.41 351.49L556.46 352.13L556.51 352.75L556.56 353.36L556.61 353.97L556.66 354.57L556.71 355.16L556.77 355.74L556.82 356.32L556.87 356.88L556.92 357.44L556.97 358.00L557.02 358.54L557.07 359.08L557.13 359.61L557.18 360.13L557.23 360.65L557.28 361.16L557.33 361.67L557.38 362.17L557.44 362.66L557.49 363.15L557.54 363.63L557.59 364.10L557.64 364.57L557.69 365.03L557.74 365.49L557.80 365.94L557.85 366.39L557.90 366.83L557.95 367.27L558.00 367.70L558.05 368.12L558.10 368.54L558.16 368.96L558.21 369.37L558.26 369.78L558.31 370.18L558.36 370.58L558.41 370.97L558.47 371.36L558.52 371.74L558.57 372.12L558.62 372.50L558.67 372.87L558.72 373.24L558.77 373.60L558.83 373.96L558.88 374.31L558.93 374.66L558.98 375.01L559.03 375.36L559.08 375.70L559.14 376.03L559.19 376.36L559.24 376.69L559.29 377.02L559.34 377.34L559.39 377.66L559.44 377.98L559.50 378.29L559.55 378.60L559.60 378.90L559.65 379.21L559.70 379.51L559.75 379.80L559.80 380.10L559.86 380.39L559.91 380.68L559.96 380.96L560.01 381.24L560.06 381.52L560.11 381.80L560.17 382.07L560.22 382.34L560.27 382.61L560.32 382.88L560.37 383.14L560.42 383.40L560.47 383.66L560.53 383.91L560.58 384.16L560.63 384.42L560.68 384.66L560.73 384.91L560.78 385.15L560.83 385.39L560.89 385.63L560.94 385.87L560.99 386.10L561.04 386.33L561.09 386.56L561.14 386.79L561.20 387.02L561.25 387.24L561.30 387.46L561.35 387.68L561.40 387.90L561.45 388.11L561.50 388.33L561.56 388.54L561.61 388.75L561.66 388.96L561.71 389.16L561.76 389.36L561.81 389.57L561.86 389.77L561.92 389.97L561.97 390.16L562.02 390.36L562.07 390.55L562.12 390.74L562.17 390.93L562.23 391.12L562.28 391.31L562.33 391.49L562.38 391.67L562.43 391.85L562.48 392.03L562.53 392.21L562.59 392.39L562.64 392.56L562.69 392.74L562.74 392.91L562.79 393.08L562.84 393.25L562.89 393.42L562.95 393.58L563.00 393.75L563.05 393.91L563.10 394.08L563.15 394.24L563.20 394.40L563.26 394.55L563.31 394.71L563.36 394.87L563.41 395.02L563.46 395.17L563.51 395.32L563.56 395.47L563.62 395.62L563.67 395.77L563.72 395.92L563.77 396.06L563.82 396.21L563.87 396.35L563.92 396.49L563.98 396.63L564.03 396.77L564.08 396.91L564.13 397.05L564.18 397.18L564.23 397.32L564.29 397.45L564.34 397.58L564.39 397.72L564.44 397.85L564.49 397.98L564.54 398.11L564.59 398.23L564.65 398.36L564.70 398.48L564.75 398.61L564.80 398.73L564.85 398.85L564.90 398.98L564.95 399.10L565.01 399.22L565.06 399.33L565.11 399.45L565.16 399.57L565.21 399.68L565.26 399.80L565.32 399.91L565.37 400.03L565.42 400.14L565.47 400.25L565.52 400.36L565.57 400.47L565.62 400.58L565.68 400.69L565.73 400.79L565.78 400.90L565.83 401.00L565.88 401.11L565.93 401.21L565.98 401.31L566.04 401.42L566.09 401.52L566.14 401.62L566.19 401.72L566.24 401.82L566.29 401.92L566.35 402.01L566.40 402.11L566.45 402.20L566.50 402.30" stroke="#0000ff" stroke-width="1.5" fill="none" clip-path="url(#clipe)" stroke-linejoin="round" stroke-linecap="round"/><path d="M418.70 402.30L419.44 401.45L420.18 400.63L420.93 399.86L421.67 399.12L422.41 398.41L423.15 397.73L423.90 397.09L424.64 396.46L425.38 395.87L426.12 395.30L426.87 394.75L427.61 394.22L428.35 393.71L429.10 393.22L429.84 392.74L430.58 392.29L431.32 391.85L432.07 391.42L432.81 391.01L433.55 390.61L434.29 390.23L435.04 389.85L435.78 389.49L436.52 389.14L437.27 388.81L438.01 388.48L438.75 388.16L439.49 387.85L440.24 387.55L440.98 387.26L441.72 386.97L442.46 386.70L443.21 386.43L443.95 386.17L444.69 385.91L445.44 385.67L446.18 385.43L446.92 385.19L447.66 384.96L448.41 384.74L449.15 384.52L449.89 384.31L450.63 384.10L451.38 383.90L452.12 383.70L452.86 383.51L453.61 383.32L454.35 383.13L455.09 382.95L455.83 382.78L456.58 382.60L457.32 382.43L458.06 382.27L458.80 382.11L459.55 381.95L460.29 381.79L461.03 381.64L461.78 381.49L462.52 381.35L463.26 381.21L464.00 381.07L464.75 380.93L465.49 380.79L466.23 380.66L466.97 380.53L467.72 380.40L468.46 380.28L469.20 380.16L469.95 380.04L470.69 379.92L471.43 379.80L472.17 379.69L472.92 379.58L473.66 379.47L474.40 379.36L475.14 379.25L475.89 379.15L476.63 379.05L477.37 378.95L478.12 378.85L478.86 378.75L479.60 378.65L480.34 378.56L481.09 378.47L481.83 378.37L482.57 378.28L483.31 378.20L484.06 378.11L484.80 378.02L485.54 377.94L486.29 377.85L487.03 377.77L487.77 377.69L488.51 377.61L489.26 377.53L490.00 377.46L490.74 377.38L491.48 377.31L492.23 377.23L492.97 377.16L493.71 377.09L494.46 377.02L495.20 376.95L495.94 376.88L496.68 376.81L497.43 376.74L498.17 376.68L498.91 376.61L499.65 376.55L500.40 376.48L501.14 376.42L501.88 376.36L502.63 376.30L503.37 376.24L504.11 376.18L504.85 376.12L505.60 376.06L506.34 376.00L507.08 375.95L507.82 375.89L508.57 375.84L509.31 375.78L510.05 375.73L510.80 375.68L511.54 375.62L512.28 375.57L513.02 375.52L513.77 375.47L514.51 375.42L515.25 375.37L515.99 375.32L516.74 375.27L517.48 375.23L518.22 375.18L518.97 375.13L519.71 375.09L520.45 375.04L521.19 375.00L521.94 374.95L522.68 374.91L523.42 374.86L524.16 374.82L524.91 374.78L525.65 374.74L526.39 374.69L527.14 374.65L527.88 374.61L528.62 374.57L529.36 374.53L530.11 374.49L530.85 374.45L531.59 374.41L532.33 374.38L533.08 374.34L533.82 374.30L534.56 374.26L535.31 374.23L536.05 374.19L536.79 374.15L537.53 374.12L538.28 374.08L539.02 374.05L539.76 374.01L540.50 373.98L541.25 373.95L541.99 373.91L542.73 373.88L543.48 373.85L544.22 373.81L544.96 373.78L545.70 373.75L546.45 373.72L547.19 373.68L547.93 373.65L548.67 373.62L549.42 373.59L550.16 373.56L550.90 373.53L551.65 373.50L552.39 373.47L553.13 373.44L553.87 373.41L554.62 373.39L555.36 373.36L556.10 373.33L556.84 373.30L557.59 373.27L558.33 373.25L559.07 373.22L559.82 373.19L560.56 373.17L561.30 373.14L562.04 373.11L562.79 373.09L563.53 373.06L564.27 373.03L565.01 373.01L565.76 372.98L566.50 372.96" stroke="#ff0000" stroke-width="1.5" fill="none" clip-path="url(#clipe)" stroke-linejoin="round" stroke-linecap="round"/><text transform="translate(402.80 405.45) scale(0.67 1)" text-anchor="end" class="tk">0</text><text transform="translate(402.80 387.77) scale(0.67 1)" text-anchor="end" class="tk">0.1</text><text transform="translate(402.80 370.09) scale(0.67 1)" text-anchor="end" class="tk">0.2</text><text transform="translate(402.80 352.41) scale(0.67 1)" text-anchor="end" class="tk">0.3</text><text transform="translate(402.80 334.73) scale(0.67 1)" text-anchor="end" class="tk">0.4</text><text transform="translate(402.80 317.05) scale(0.67 1)" text-anchor="end" class="tk">0.5</text><text transform="translate(402.80 299.37) scale(0.67 1)" text-anchor="end" class="tk">0.6</text><text transform="translate(402.80 281.69) scale(0.67 1)" text-anchor="end" class="tk">0.7</text><text transform="translate(402.80 264.01) scale(0.67 1)" text-anchor="end" class="tk">0.8</text><text transform="translate(402.80 246.33) scale(0.67 1)" text-anchor="end" class="tk">0.9</text><text transform="translate(402.80 228.65) scale(0.67 1)" text-anchor="end" class="tk">1</text><text transform="translate(404.40 412.10) scale(0.67 1)" text-anchor="middle" class="tk">0</text><text transform="translate(436.82 412.10) scale(0.67 1)" text-anchor="middle" class="tk">0.2</text><text transform="translate(469.24 412.10) scale(0.67 1)" text-anchor="middle" class="tk">0.4</text><text transform="translate(501.66 412.10) scale(0.67 1)" text-anchor="middle" class="tk">0.6</text><text transform="translate(534.08 412.10) scale(0.67 1)" text-anchor="middle" class="tk">0.8</text><text transform="translate(566.50 412.10) scale(0.67 1)" text-anchor="middle" class="tk">1</text><text transform="translate(480.70 422.00) scale(0.72 1)" class="al" font-weight="bold" font-size="9.2">x</text><text transform="translate(482.85 421.40) scale(0.85 1)" class="al" font-weight="bold" font-size="10">&#8594;</text><text transform="translate(390.50 320.20) rotate(-90) scale(1 0.76)" class="al" font-weight="bold" font-size="7.8" stroke="#111" stroke-width="0.2">y</text><text transform="translate(390.67 317.35) rotate(-90) scale(1.2936 0.9096)" class="al" font-size="9.4" font-weight="bold">&#8594;</text><text transform="translate(354.5 426.5) scale(1.06 1)" class="pl">(e)</text></g>
</svg>
</body></html>
